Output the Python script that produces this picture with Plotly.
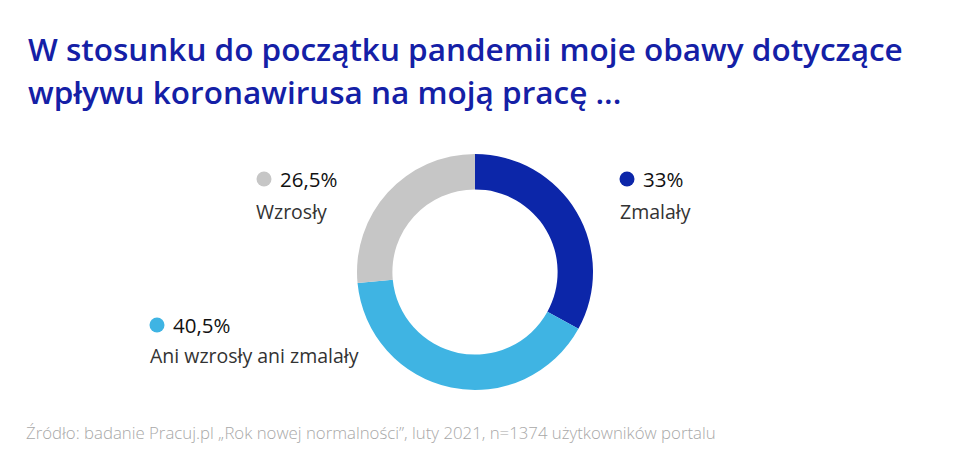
import plotly.graph_objects as go

categories = ["Zmalały", "Ani wzrosły ani zmalały", "Wzrosły"]
values = [33, 40.5, 26.5]
value_labels = ["33%", "40,5%", "26,5%"]
colors = ["#0C26A9", "#3FB4E3", "#C6C6C6"]

title_lines = ["W stosunku do początku pandemii moje obawy dotyczące",
               "wpływu koronawirusa na moją pracę ..."]
source = "Źródło: badanie Pracuj.pl „Rok nowej normalności”, luty 2021, n=1374 użytkowników portalu"

W, H = 960, 449
cx, cy, r = 475, 272, 118

# label layout (pixel positions)
marker_pos = [(627, 179), (157, 325), (264, 179)]
cat_pos = [(620, 211), (150, 355), (256, 211)]

fig = go.Figure()
fig.add_trace(go.Pie(
    labels=categories, values=values, sort=False, direction="clockwise", rotation=0,
    hole=0.70, marker=dict(colors=colors, line=dict(width=0)),
    textinfo="none", hoverinfo="label+percent", showlegend=False,
    domain=dict(x=[(cx - r) / W, (cx + r) / W], y=[(H - cy - r) / H, (H - cy + r) / H]),
))

fig.add_trace(go.Scatter(
    x=[p[0] for p in marker_pos], y=[p[1] for p in marker_pos], mode="markers",
    marker=dict(size=15, color=colors), showlegend=False, hoverinfo="skip",
    xaxis="x", yaxis="y",
))

annotations = []
for (mx, my), (tx, ty), lab, cat in zip(marker_pos, cat_pos, value_labels, categories):
    annotations.append(dict(x=mx + 14, y=my, xref="x", yref="y", text=lab, showarrow=False,
                            xanchor="left", yanchor="middle",
                            font=dict(family="Open Sans", size=20.5, color="#111111")))
    annotations.append(dict(x=tx - 2, y=ty, xref="x", yref="y", text=cat, showarrow=False,
                            xanchor="left", yanchor="middle",
                            font=dict(family="Open Sans", size=19.5, color="#333333")))

for i, line in enumerate(title_lines):
    annotations.append(dict(x=26, y=48 + i * 43, xref="x", yref="y", text=line, showarrow=False,
                            xanchor="left", yanchor="middle",
                            font=dict(family="Open Sans", size=31.5, color="#1420A6", weight=600)))

annotations.append(dict(x=24, y=432, xref="x", yref="y", text=source, showarrow=False,
                        xanchor="left", yanchor="middle",
                        font=dict(family="Open Sans", size=16.8, color="#A8A8A8", weight=300)))

fig.update_layout(
    width=W, height=H, margin=dict(l=0, r=0, t=0, b=0),
    paper_bgcolor="white", plot_bgcolor="rgba(0,0,0,0)",
    xaxis=dict(range=[0, W], visible=False, domain=[0, 1], fixedrange=True),
    yaxis=dict(range=[H, 0], visible=False, domain=[0, 1], fixedrange=True),
    annotations=annotations,
)

fig.write_html("out.html")
